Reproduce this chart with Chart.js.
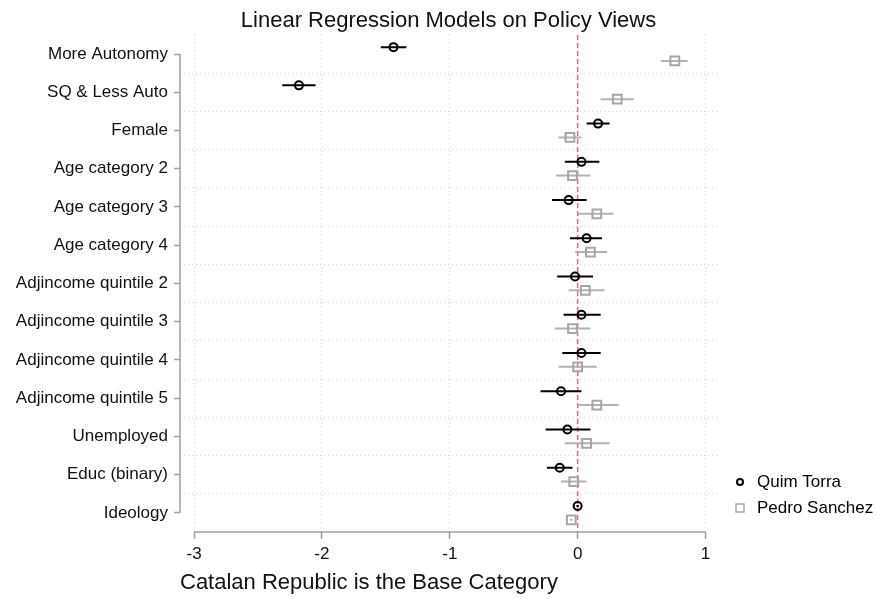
<!DOCTYPE html>
<html>
<head>
<meta charset="utf-8">
<script src="https://cdn.jsdelivr.net/npm/chart.js@4.4.1/dist/chart.umd.min.js"></script>
<style>
  html, body { margin: 0; padding: 0; background: #fff; }
  #wrap { width: 876px; height: 599px; }
</style>
</head>
<body>
<div id="wrap"><canvas id="coefChart" width="876" height="599"></canvas></div>
<script>
// coefficient plot data
const categories = [
  "More Autonomy", "SQ & Less Auto", "Female", "Age category 2", "Age category 3",
  "Age category 4", "Adjincome quintile 2", "Adjincome quintile 3", "Adjincome quintile 4",
  "Adjincome quintile 5", "Unemployed", "Educ (binary)", "Ideology"
];
const torraCoef   = [-1.44, -2.18,  0.16,  0.03, -0.07,  0.07, -0.02,  0.03,  0.03, -0.13, -0.08, -0.14,  0.00];
const torraLo     = [-1.54, -2.31,  0.07, -0.10, -0.20, -0.06, -0.16, -0.11, -0.12, -0.29, -0.25, -0.24, -0.01];
const torraHi     = [-1.34, -2.05,  0.25,  0.17,  0.07,  0.19,  0.12,  0.18,  0.18,  0.03,  0.10, -0.04,  0.01];
const sanchezCoef = [ 0.76,  0.31, -0.06, -0.04,  0.15,  0.10,  0.06, -0.04,  0.00,  0.15,  0.07, -0.03, -0.05];
const sanchezLo   = [ 0.65,  0.18, -0.15, -0.17,  0.00, -0.02, -0.07, -0.18, -0.15,  0.00, -0.10, -0.13, -0.06];
const sanchezHi   = [ 0.86,  0.44,  0.03,  0.10,  0.28,  0.23,  0.21,  0.10,  0.15,  0.32,  0.25,  0.07, -0.04];
const xTicks = [-3, -2, -1, 0, 1];
const baseValue = 0;

const FONT = "'Liberation Sans', Arial, Helvetica, sans-serif";
const GRID = "#d2d2d2";
const AXIS = "#a0a0a0";
const GREY = "#a6a6a6";
const SHIFT = 0.18;   // vertical offset of the two models inside a row

function pointsAt(values, offset) {
  return values.map((v, i) => ({ x: v, y: i + offset }));
}

// pairs of points with a gap between them -> one segment per row
function errorBars(lo, hi, offset) {
  const out = [];
  lo.forEach((l, i) => {
    out.push({ x: l, y: i + offset }, { x: hi[i], y: i + offset }, { x: null, y: null });
  });
  return out;
}

function legendMarker(shape, color) {
  const c = document.createElement("canvas");
  c.width = 14; c.height = 14;
  const g = c.getContext("2d");
  g.strokeStyle = color;
  g.lineWidth = 2;
  if (shape === "circle") {
    g.beginPath(); g.arc(7, 7, 3, 0, Math.PI * 2); g.stroke();
  } else {
    g.lineWidth = 1.5;
    g.strokeRect(3, 3, 8, 8);
  }
  return c;
}

// Stata style axis lines that only span the tick range
const stataAxes = {
  id: "stataAxes",
  beforeDatasetsDraw(chart) {
    const { ctx, chartArea, scales: { x, y } } = chart;
    ctx.save();
    ctx.strokeStyle = AXIS;
    ctx.lineWidth = 1.5;
    ctx.beginPath();
    ctx.moveTo(chartArea.left, y.getPixelForValue(0));
    ctx.lineTo(chartArea.left, y.getPixelForValue(categories.length - 1));
    ctx.moveTo(x.getPixelForValue(xTicks[0]), chartArea.bottom);
    ctx.lineTo(x.getPixelForValue(xTicks[xTicks.length - 1]), chartArea.bottom);
    ctx.stroke();
    ctx.restore();
  }
};

// put the legend block low on the right, next to the last rows
const placeLegend = {
  id: "placeLegend",
  afterLayout(chart) {
    const lg = chart.legend, area = chart.chartArea;
    const w = lg.width;
    lg.left = area.right + 5.5;
    lg.right = lg.left + w;
    lg.top = area.bottom - 67.5;
    lg.bottom = lg.top + 120;
  }
};

const isRow = c => c.tick && Number.isInteger(c.tick.value);

document.addEventListener("DOMContentLoaded", function () {
  const ctx = document.getElementById("coefChart").getContext("2d");
  new Chart(ctx, {
    type: "scatter",
    data: {
      datasets: [
        {
          label: "Quim Torra",
          data: pointsAt(torraCoef, -SHIFT),
          pointStyle: "circle",
          pointRadius: 4,
          pointBorderWidth: 2,
          borderWidth: 2,
          borderColor: "#000",
          backgroundColor: "rgba(0,0,0,0)",
          order: 0
        },
        {
          label: "Pedro Sanchez",
          data: pointsAt(sanchezCoef, SHIFT),
          pointStyle: "rect",
          pointRadius: 6.2,
          pointBorderWidth: 2,
          borderWidth: 2,
          borderColor: GREY,
          backgroundColor: "rgba(0,0,0,0)",
          order: 0
        },
        {
          label: "ci-torra",
          data: errorBars(torraLo, torraHi, -SHIFT),
          showLine: true,
          spanGaps: false,
          pointRadius: 0,
          borderWidth: 2,
          borderColor: "#000",
          order: 1
        },
        {
          label: "ci-sanchez",
          data: errorBars(sanchezLo, sanchezHi, SHIFT),
          showLine: true,
          spanGaps: false,
          pointRadius: 0,
          borderWidth: 2,
          borderColor: "#b2b2b2",
          order: 2
        },
        {
          label: "base",
          data: [{ x: baseValue, y: -0.5 }, { x: baseValue, y: categories.length - 0.5 }],
          showLine: true,
          pointRadius: 0,
          borderWidth: 1.5,
          borderDash: [5, 3],
          borderColor: "#cf6c9e",
          order: 3
        }
      ]
    },
    options: {
      responsive: false,
      devicePixelRatio: 1,
      animation: false,
      events: [],
      layout: { padding: { left: 0, right: 0, top: 0, bottom: 0 } },
      scales: {
        x: {
          type: "linear",
          min: -3.11,
          max: 1.09,
          afterBuildTicks: s => { s.ticks = xTicks.map(v => ({ value: v })); },
          afterFit: s => { s.height = 67; },
          grid: { color: GRID, lineWidth: 1, tickColor: AXIS, tickLength: 7, tickWidth: 1.5 },
          border: { display: false, dash: [1, 3] },
          ticks: {
            color: "#111", padding: 5, maxRotation: 0,
            font: { family: FONT, size: 17 },
            callback: v => String(v)
          },
          title: {
            display: true,
            text: "Catalan Republic is the Base Category",
            align: "start",
            color: "#111",
            font: { family: FONT, size: 22 },
            padding: { top: 0, bottom: 3 }
          }
        },
        y: {
          type: "linear",
          reverse: true,
          min: -0.5,
          max: categories.length - 0.5,
          afterBuildTicks: s => {
            const t = [];
            for (let v = 0; v <= categories.length - 1; v += 0.5) t.push({ value: v });
            s.ticks = t;
          },
          afterFit: s => { s.width = 180; },
          grid: {
            color: c => isRow(c) ? "rgba(0,0,0,0)" : GRID,
            tickColor: c => isRow(c) ? AXIS : "rgba(0,0,0,0)",
            tickLength: 6,
            tickWidth: 1.5
          },
          border: { display: false, dash: [1, 3] },
          ticks: {
            autoSkip: false, color: "#111", padding: 6,
            font: { family: FONT, size: 17 },
            callback: v => Number.isInteger(v) ? categories[v] : ""
          }
        }
      },
      plugins: {
        title: {
          display: true,
          text: "Linear Regression Models on Policy Views",
          fullSize: false,
          color: "#111",
          font: { family: FONT, size: 22, weight: "normal" },
          padding: { top: 7.5, bottom: 1 }
        },
        legend: {
          position: "right",
          align: "start",
          fullSize: false,
          maxWidth: 159,
          labels: {
            usePointStyle: true,
            boxWidth: 17,
            padding: 9,
            color: "#111",
            font: { family: FONT, size: 17 },
            generateLabels: () => [
              { text: "Quim Torra", pointStyle: legendMarker("circle", "#000"), fillStyle: "rgba(0,0,0,0)",
                strokeStyle: "rgba(0,0,0,0)", lineWidth: 0, hidden: false, datasetIndex: 0 },
              { text: "Pedro Sanchez", pointStyle: legendMarker("rect", GREY), fillStyle: "rgba(0,0,0,0)",
                strokeStyle: "rgba(0,0,0,0)", lineWidth: 0, hidden: false, datasetIndex: 1 }
            ]
          }
        },
        tooltip: { enabled: false }
      }
    },
    plugins: [stataAxes, placeLegend]
  });
});
</script>
</body>
</html>
